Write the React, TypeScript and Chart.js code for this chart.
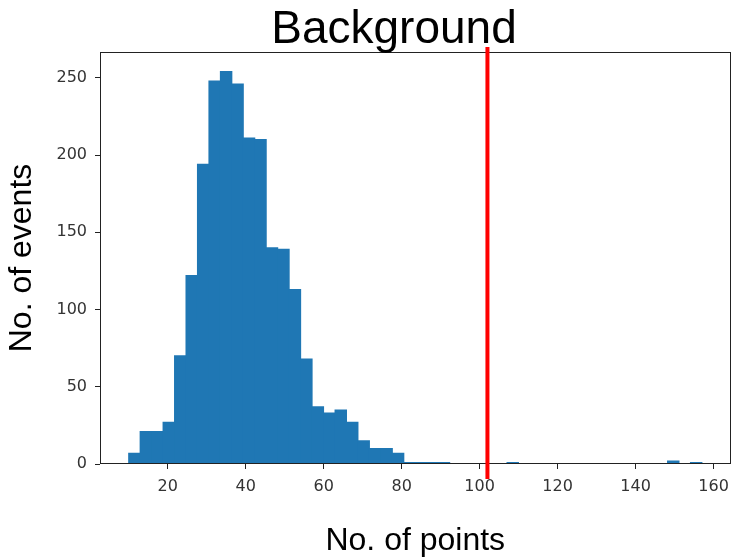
import React, { useEffect, useRef } from "react";
import { Chart, registerables } from "chart.js";

Chart.register(...registerables);

// Histogram: 50 equal-width bins spanning [BIN_MIN, BIN_MAX]
const BIN_MIN = 10;
const BIN_MAX = 157;
const COUNTS = [
  7, 21, 21, 27, 70, 122, 194, 248, 254, 246,
  211, 210, 140, 139, 113, 68, 37, 33, 35, 27,
  15, 10, 10, 7, 1, 1, 1, 1, 0, 0,
  0, 0, 0, 1, 0, 0, 0, 0, 0, 0,
  0, 0, 0, 0, 0, 0, 0, 2, 0, 1,
];
const X_TICKS = [20, 40, 60, 80, 100, 120, 140, 160];
const Y_TICKS = [0, 50, 100, 150, 200, 250];
const THRESHOLD = 102;

const TITLE = "Background";
const X_LABEL = "No. of points";
const Y_LABEL = "No. of events";

const W = 737;
const H = 557;

const binWidth = (BIN_MAX - BIN_MIN) / COUNTS.length;
const bars = COUNTS.map((c, i) => ({ x: BIN_MIN + (i + 0.5) * binWidth, y: c }));
const xMargin = 0.05 * (BIN_MAX - BIN_MIN);
const yTop = Math.max(...COUNTS) * 1.05;

const TICK_FONT = { family: "'DejaVu Sans', sans-serif", size: 16 };
const LABEL_FAMILY = "'Liberation Sans', Arial, sans-serif";

// Box frame, threshold marker and heading
const decorations = {
  id: "decorations",
  afterDraw(chart: any) {
    const { ctx, chartArea: a, scales } = chart;
    ctx.save();
    ctx.strokeStyle = "#222";
    ctx.lineWidth = 1;
    const l = Math.round(a.left) + 0.5;
    const t = Math.round(a.top) + 0.5;
    const r = Math.round(a.right) - 0.5;
    const b = Math.round(a.bottom) - 0.5;
    ctx.strokeRect(l, t, r - l, b - t);

    const x = scales.x.getPixelForValue(THRESHOLD);
    ctx.strokeStyle = "#ff0000";
    ctx.lineWidth = 4;
    ctx.beginPath();
    ctx.moveTo(x, a.top - 5);
    ctx.lineTo(x, a.bottom + 15);
    ctx.stroke();

    ctx.fillStyle = "#000";
    ctx.font = `46px ${LABEL_FAMILY}`;
    ctx.textAlign = "center";
    ctx.textBaseline = "alphabetic";
    ctx.fillText(TITLE, 394, 43);
    ctx.restore();
  },
};

export default function App() {
  const ref = useRef<HTMLCanvasElement>(null);

  useEffect(() => {
    const chart = new Chart(ref.current!, {
      type: "bar",
      data: {
        datasets: [
          {
            data: bars,
            backgroundColor: "#1f77b4",
            borderWidth: 0,
            inflateAmount: 0.5,
            barPercentage: 1,
            categoryPercentage: 1,
          },
        ],
      },
      options: {
        animation: false,
        responsive: false,
        devicePixelRatio: 1,
        events: [],
        layout: { padding: { top: 52, right: 4, left: 0, bottom: 0 } },
        plugins: {
          legend: { display: false },
          tooltip: { enabled: false },
          title: { display: false },
        },
        scales: {
          x: {
            type: "linear",
            offset: false,
            min: BIN_MIN - xMargin,
            max: BIN_MAX + xMargin,
            afterBuildTicks: (s: any) => {
              s.ticks = X_TICKS.map((v) => ({ value: v }));
            },
            afterFit: (s: any) => {
              s.height = H - 464;
            },
            ticks: { font: TICK_FONT, color: "#333", padding: 8, maxRotation: 0 },
            grid: {
              display: true,
              offset: false,
              drawOnChartArea: false,
              drawTicks: true,
              tickLength: 5,
              tickColor: "#222",
            },
            border: { display: false },
            title: {
              display: true,
              text: X_LABEL,
              color: "#000",
              font: { family: LABEL_FAMILY, size: 32, lineHeight: 1 },
              padding: { top: 0, bottom: 0 },
            },
          },
          y: {
            type: "linear",
            min: 0,
            max: yTop,
            afterBuildTicks: (s: any) => {
              s.ticks = Y_TICKS.map((v) => ({ value: v }));
            },
            afterFit: (s: any) => {
              s.width = 100;
            },
            ticks: { font: TICK_FONT, color: "#333", padding: 8 },
            grid: {
              display: true,
              drawOnChartArea: false,
              drawTicks: true,
              tickLength: 5,
              tickColor: "#222",
            },
            border: { display: false },
            title: {
              display: true,
              text: Y_LABEL,
              color: "#000",
              font: { family: LABEL_FAMILY, size: 32, lineHeight: 1 },
              padding: { top: 6, bottom: 0 },
            },
          },
        },
      },
      plugins: [decorations],
    } as any);
    return () => chart.destroy();
  }, []);

  return (
    <div style={{ position: "fixed", left: 0, top: 0, width: W, height: H, background: "#fff" }}>
      <canvas ref={ref} width={W} height={H} style={{ display: "block", width: W, height: H }} />
    </div>
  );
}
